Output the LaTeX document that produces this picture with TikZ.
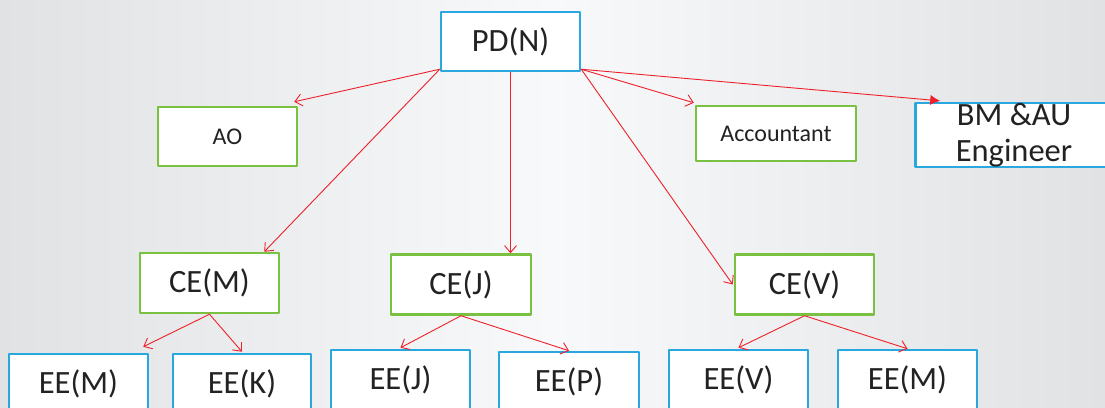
\documentclass[tikz,border=0pt]{standalone}
\usepackage{fontspec}
\setmainfont{Carlito}
\usetikzlibrary{arrows.meta}
\definecolor{boxblue}{RGB}{41,168,224}
\definecolor{boxgreen}{RGB}{122,193,66}
\definecolor{linkred}{RGB}{238,32,42}
\definecolor{inkgrey}{RGB}{34,34,34}
\definecolor{bgedge}{RGB}{224,226,228}
\definecolor{bglight}{RGB}{248,249,250}
\tikzset{
  unit/.style={draw, fill=white, line width=2.5bp, inner sep=0pt, text=inkgrey, align=center},
  bluebox/.style={unit, draw=boxblue},
  greenbox/.style={unit, draw=boxgreen},
  bigtxt/.style={font=\fontsize{32.5bp}{36bp}\selectfont},
  smalltxt/.style={font=\fontsize{24bp}{28bp}\selectfont},
  link/.style={draw=linkred, line width=0.9bp, -{Straight Barb[length=7bp,width=12bp]}},
}

\begin{document}
\begin{tikzpicture}[line join=bevel]
\useasboundingbox (0,0) rectangle (1105bp,408bp);
\clip (0,0) rectangle (1105bp,408bp);
\fill [left color=bgedge, right color=bgedge, middle color=bglight] (0,0) rectangle (1105bp,408bp);
%%
\node (PD) at (510.5bp,366.5bp) [bluebox,bigtxt,minimum width=139bp,minimum height=59bp] {PD(N)};
  \node (AO) at (227.5bp,271.5bp) [greenbox,smalltxt,minimum width=139bp,minimum height=59bp] {AO};
  \node (Acc) at (776bp,274.5bp) [greenbox,smalltxt,minimum width=160bp,minimum height=55bp] {Accountant};
  \node (BM) at (1014bp,273bp) [bluebox,bigtxt,minimum width=197bp,minimum height=62bp] {BM \&AU\\Engineer};
%
  \node (CEM) at (209.5bp,125bp) [greenbox,bigtxt,minimum width=139bp,minimum height=60bp] {CE(M)};
  \node (CEJ) at (461bp,123.5bp) [greenbox,bigtxt,minimum width=140bp,minimum height=60bp] {CE(J)};
  \node (CEV) at (804.5bp,123.5bp) [greenbox,bigtxt,minimum width=139bp,minimum height=60bp] {CE(V)};
%
  \node (EEM) at (78.5bp,24bp) [bluebox,bigtxt,minimum width=139bp,minimum height=60bp] {EE(M)};
  \node (EEK) at (242bp,24bp) [bluebox,bigtxt,minimum width=138bp,minimum height=60bp] {EE(K)};
  \node (EEJ) at (400.5bp,28bp) [bluebox,bigtxt,minimum width=139bp,minimum height=60bp] {EE(J)};
  \node (EEP) at (569bp,26bp) [bluebox,bigtxt,minimum width=140bp,minimum height=60bp] {EE(P)};
  \node (EEV) at (738.5bp,28bp) [bluebox,bigtxt,minimum width=139bp,minimum height=60bp] {EE(V)};
  \node (EEMb) at (907.5bp,28bp) [bluebox,bigtxt,minimum width=139bp,minimum height=60bp] {EE(M)};
%% links out of PD(N)
  \draw [link] ([yshift=3bp]PD.south west) -- ([shift={(-4bp,4bp)}]AO.north east);
  \draw [link] ([yshift=3bp]PD.south west) -- ([xshift=-16bp]CEM.north east);
  \draw [link] (PD.south) -- (PD.south |- CEJ.north);
  \draw [link] ([yshift=3bp]PD.south east) -- ([shift={(-1bp,2bp)}]Acc.north west);
  \draw [link] ([yshift=3bp]PD.south east) -- ([xshift=-1bp]CEV.west);
  \draw [draw=linkred, line width=0.9bp, -{Latex[length=10bp,width=10bp]}] ([yshift=3bp]PD.south east) -- ([shift={(26bp,1bp)}]BM.north west);
%% links out of the CE boxes
  \draw [link] (CEM.south) -- ([shift={(-6bp,6bp)}]EEM.north east);
  \draw [link] (CEM.south) -- ([yshift=1bp]EEK.north);
  \draw [link] (CEJ.south) -- ([yshift=1bp]EEJ.north);
  \draw [link] (CEJ.south) -- (EEP.north);
  \draw [link] (CEV.south) -- ([yshift=1bp]EEV.north);
  \draw [link] (CEV.south) -- (EEMb.north);
%
\end{tikzpicture}
\end{document}
